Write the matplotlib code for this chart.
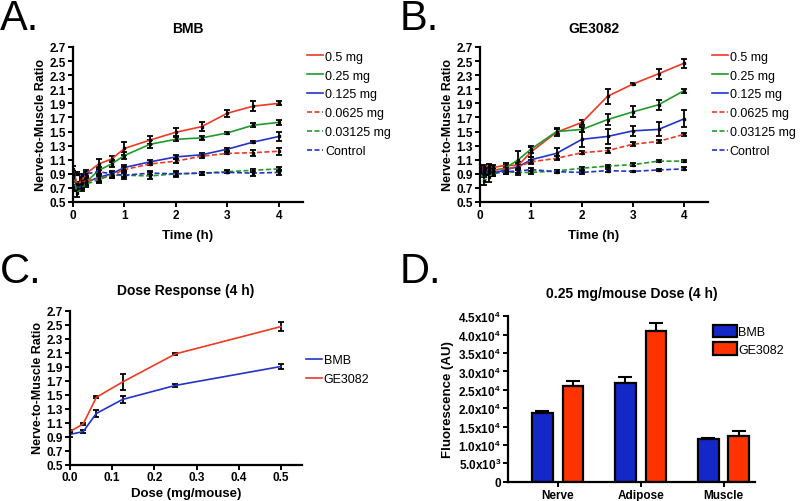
import matplotlib
matplotlib.use("Agg")
import matplotlib.pyplot as plt
from matplotlib.lines import Line2D
import numpy as np

plt.rcParams['font.family'] = ['Liberation Sans', 'DejaVu Sans']
plt.rcParams['mathtext.fontset'] = 'custom'
plt.rcParams['mathtext.rm'] = 'Liberation Sans:bold'
plt.rcParams['mathtext.default'] = 'rm'

# ---------------- data ----------------
times = [0, 0.083, 0.167, 0.25, 0.5, 0.75, 1, 1.5, 2, 2.5, 3, 3.5, 4]
dose_labels = ['0.5 mg', '0.25 mg', '0.125 mg', '0.0625 mg', '0.03125 mg', 'Control']

a_05 = [0.97, 0.75, 0.80, 0.90, 1.04, 1.11, 1.26, 1.38, 1.49, 1.57, 1.76, 1.86, 1.90]
a_05_err = [0.04, 0.04, 0.04, 0.05, 0.07, 0.04, 0.09, 0.05, 0.06, 0.06, 0.05, 0.07, 0.03]
a_025 = [0.90, 0.70, 0.72, 0.78, 0.95, 1.04, 1.16, 1.32, 1.39, 1.41, 1.48, 1.59, 1.63]
a_025_err = [0.04, 0.04, 0.04, 0.04, 0.05, 0.05, 0.05, 0.06, 0.03, 0.03, 0.01, 0.03, 0.03]
a_0125 = [0.90, 0.68, 0.73, 0.78, 0.85, 0.90, 0.99, 1.07, 1.14, 1.17, 1.25, 1.35, 1.43]
a_0125_err = [0.03, 0.03, 0.03, 0.04, 0.05, 0.04, 0.03, 0.02, 0.03, 0.02, 0.02, 0.015, 0.06]
a_00625 = [0.90, 0.75, 0.77, 0.80, 0.83, 0.88, 0.96, 1.04, 1.08, 1.15, 1.19, 1.20, 1.22]
a_00625_err = [0.04, 0.03, 0.04, 0.04, 0.05, 0.04, 0.03, 0.02, 0.03, 0.02, 0.015, 0.04, 0.05]
a_003125 = [0.85, 0.63, 0.70, 0.75, 0.82, 0.88, 0.88, 0.87, 0.90, 0.91, 0.93, 0.95, 0.97]
a_003125_err = [0.05, 0.06, 0.05, 0.04, 0.05, 0.04, 0.06, 0.05, 0.04, 0.02, 0.02, 0.02, 0.03]
a_ctrl = [0.90, 0.90, 0.88, 0.90, 0.93, 0.90, 0.88, 0.91, 0.90, 0.91, 0.92, 0.91, 0.92]
a_ctrl_err = [0.03, 0.02, 0.02, 0.03, 0.03, 0.03, 0.03, 0.03, 0.03, 0.02, 0.015, 0.04, 0.03]

b_05 = [0.98, 1.00, 1.01, 0.99, 1.02, 1.02, 1.21, 1.49, 1.63, 2.00, 2.175, 2.32, 2.47]
b_05_err = [0.03, 0.03, 0.03, 0.03, 0.04, 0.05, 0.07, 0.06, 0.04, 0.11, 0.02, 0.07, 0.065]
b_025 = [0.93, 0.92, 0.92, 0.95, 0.98, 1.10, 1.25, 1.50, 1.53, 1.67, 1.78, 1.88, 2.08]
b_025_err = [0.03, 0.03, 0.03, 0.03, 0.05, 0.12, 0.05, 0.04, 0.04, 0.08, 0.08, 0.07, 0.03]
b_0125 = [0.95, 0.93, 0.93, 0.90, 0.96, 1.00, 1.10, 1.19, 1.39, 1.43, 1.51, 1.53, 1.68]
b_0125_err = [0.03, 0.05, 0.04, 0.03, 0.04, 0.05, 0.04, 0.08, 0.11, 0.11, 0.07, 0.10, 0.12]
b_00625 = [0.98, 0.95, 0.96, 0.95, 0.97, 1.00, 1.07, 1.12, 1.20, 1.23, 1.32, 1.36, 1.46]
b_00625_err = [0.03, 0.03, 0.03, 0.03, 0.03, 0.03, 0.03, 0.03, 0.02, 0.03, 0.03, 0.025, 0.02]
b_003125 = [0.92, 0.80, 0.85, 0.90, 0.93, 0.92, 0.92, 0.94, 0.98, 1.01, 1.03, 1.08, 1.08]
b_003125_err = [0.04, 0.06, 0.06, 0.03, 0.03, 0.03, 0.02, 0.02, 0.02, 0.02, 0.02, 0.01, 0.015]
b_ctrl = [0.92, 0.95, 0.92, 0.92, 0.93, 0.94, 0.96, 0.93, 0.92, 0.945, 0.935, 0.955, 0.97]
b_ctrl_err = [0.03, 0.03, 0.03, 0.02, 0.03, 0.03, 0.02, 0.02, 0.02, 0.02, 0.01, 0.01, 0.02]

doses = [0, 0.03125, 0.0625, 0.125, 0.25, 0.5]
c_bmb = [0.93, 0.97, 1.23, 1.43, 1.63, 1.90]
c_bmb_err = [0.03, 0.02, 0.05, 0.05, 0.02, 0.03]
c_ge = [0.97, 1.08, 1.46, 1.68, 2.08, 2.47]
c_ge_err = [0.02, 0.02, 0.015, 0.12, 0.02, 0.06]

tissues = ['Nerve', 'Adipose', 'Muscle']
d_bmb = [18700, 26900, 11500]
d_bmb_err = [500, 1600, 500]
d_ge = [26000, 41000, 12500]
d_ge_err = [1400, 2100, 1200]

ratio_ticks = [0.5, 0.7, 0.9, 1.1, 1.3, 1.5, 1.7, 1.9, 2.1, 2.3, 2.5, 2.7]
fluor_ticks = [0, 5000, 10000, 15000, 20000, 25000, 30000, 35000, 40000, 45000]
fluor_labels = ['0', '5.0x10$^{3}$', '1.0x10$^{4}$', '1.5x10$^{4}$', '2.0x10$^{4}$',
                '2.5x10$^{4}$', '3.0x10$^{4}$', '3.5x10$^{4}$', '4.0x10$^{4}$', '4.5x10$^{4}$']

# ---------------- style ----------------
RED = '#ee3a24'
GREEN = '#1f9a2a'
BLUE = '#2233c8'
BAR_BLUE = '#1428c8'
BAR_RED = '#ff3300'
colors = [RED, GREEN, BLUE, RED, GREEN, BLUE]
styles = ['-', '-', '-', '--', '--', '--']

W, H = 800, 502
fig = plt.figure(figsize=(W / 100, H / 100), dpi=100)


def ax_px(l, r, t, b):
    return fig.add_axes([l / W, 1 - b / H, (r - l) / W, (b - t) / H])


def style_ax(ax):
    for s in ['top', 'right']:
        ax.spines[s].set_visible(False)
    for s in ['left', 'bottom']:
        ax.spines[s].set_linewidth(1.6)
    ax.tick_params(width=1.4, length=3.5, labelsize=8.5, pad=1.5)
    for lab in ax.get_xticklabels() + ax.get_yticklabels():
        lab.set_fontweight('bold')


def line_handle(c, ls):
    if ls == '--':
        return Line2D([], [], color=c, lw=1.2, ls='--', dashes=(3, 1.5))
    return Line2D([], [], color=c, lw=1.2, ls='-')


LEG_KW = dict(frameon=False, fontsize=9, handlelength=1.3, handletextpad=0.15,
              labelspacing=0.55, borderaxespad=0.1, borderpad=0.2)


def time_panel(ax, series, errs, title):
    for y, e, c, ls, lab in zip(series, errs, colors, styles, dose_labels):
        ax.errorbar(times, y, yerr=e, color=c, ls=ls, lw=1.2, ecolor='black',
                    elinewidth=1.3, capsize=2.5, capthick=1.3, marker='s', ms=1.8,
                    mfc='black', mec='black', label=lab,
                    dashes=(3, 1.5) if ls == '--' else (None, None))
    ax.set_xlim(0, 4.47)
    ax.set_ylim(0.5, 2.7)
    ax.set_xticks([0, 1, 2, 3, 4])
    ax.set_yticks(ratio_ticks)
    ax.set_yticklabels([f'{v:.1f}' for v in ratio_ticks])
    ax.set_xlabel('Time (h)', fontsize=9.5, fontweight='bold', labelpad=6)
    ax.set_ylabel('Nerve-to-Muscle Ratio', fontsize=9, fontweight='bold', labelpad=2)
    ax.set_title(title, fontsize=10, fontweight='bold', pad=11)
    style_ax(ax)
    handles = [line_handle(c, ls) for c, ls in zip(colors, styles)]
    ax.legend(handles, dose_labels, loc='upper left', bbox_to_anchor=(1.0, 1.0), **LEG_KW)


axA = ax_px(73, 303, 48, 203)
time_panel(axA, [a_05, a_025, a_0125, a_00625, a_003125, a_ctrl],
           [a_05_err, a_025_err, a_0125_err, a_00625_err, a_003125_err, a_ctrl_err], 'BMB')

axB = ax_px(480, 708, 48, 203)
time_panel(axB, [b_05, b_025, b_0125, b_00625, b_003125, b_ctrl],
           [b_05_err, b_025_err, b_0125_err, b_00625_err, b_003125_err, b_ctrl_err], 'GE3082')

# Panel C
axC = ax_px(70, 302, 311.5, 465.5)
for y, e, c, lab in [(c_bmb, c_bmb_err, BLUE, 'BMB'), (c_ge, c_ge_err, RED, 'GE3082')]:
    axC.errorbar(doses, y, yerr=e, color=c, lw=1.2, ecolor='black', elinewidth=1.3,
                 capsize=2.5, capthick=1.3, label=lab)
axC.set_xlim(0, 0.55)
axC.set_ylim(0.5, 2.7)
axC.set_xticks([0, 0.1, 0.2, 0.3, 0.4, 0.5])
axC.set_xticklabels(['0.0', '0.1', '0.2', '0.3', '0.4', '0.5'])
axC.set_yticks(ratio_ticks)
axC.set_yticklabels([f'{v:.1f}' for v in ratio_ticks])
axC.set_xlabel('Dose (mg/mouse)', fontsize=9.5, fontweight='bold', labelpad=2.5)
axC.set_ylabel('Nerve-to-Muscle Ratio', fontsize=9, fontweight='bold', labelpad=2)
axC.set_title('Dose Response (4 h)', fontsize=10, fontweight='bold', pad=12)
style_ax(axC)
axC.legend([line_handle(BLUE, '-'), line_handle(RED, '-')], ['BMB', 'GE3082'],
           loc='upper left', bbox_to_anchor=(1.0, 0.74), **LEG_KW)

# Panel D
axD = ax_px(508, 755, 317.3, 482.7)
x = np.arange(len(tissues))
bw = 0.25
off = 0.185
axD.bar(x - off, d_bmb, bw, color=BAR_BLUE, edgecolor='black', linewidth=1.6, label='BMB', zorder=2)
axD.bar(x + off, d_ge, bw, color=BAR_RED, edgecolor='black', linewidth=1.6, label='GE3082', zorder=2)
axD.errorbar(x - off, d_bmb, yerr=[np.zeros(3), d_bmb_err], fmt='none', ecolor='black',
             elinewidth=1.5, capsize=5, capthick=1.5, zorder=1)
axD.errorbar(x + off, d_ge, yerr=[np.zeros(3), d_ge_err], fmt='none', ecolor='black',
             elinewidth=1.5, capsize=5, capthick=1.5, zorder=1)
axD.set_xlim(-0.6, 2.38)
axD.set_ylim(0, 45000)
axD.set_yticks(fluor_ticks)
axD.set_yticklabels(fluor_labels)
axD.set_xticks(x)
axD.set_xticklabels(tissues)
axD.set_ylabel('Fluorescence (AU)', fontsize=9.5, fontweight='bold', labelpad=3)
axD.set_title('0.25 mg/mouse Dose (4 h)', fontsize=10, fontweight='bold', pad=14)
style_ax(axD)
axD.legend(loc='upper left', bbox_to_anchor=(0.83, 0.95), frameon=False, fontsize=9,
           handlelength=1.9, handleheight=1.2, handletextpad=0.1, labelspacing=0.3,
           borderaxespad=0, borderpad=0)

# Panel letters
for txt, xp, yp in [('A.', 0, 30), ('B.', 400, 30), ('C.', 0, 283), ('D.', 400, 283)]:
    fig.text(xp / W, 1 - yp / H, txt, fontsize=30, va='baseline', ha='left')

fig.savefig('out.png', dpi=100)
